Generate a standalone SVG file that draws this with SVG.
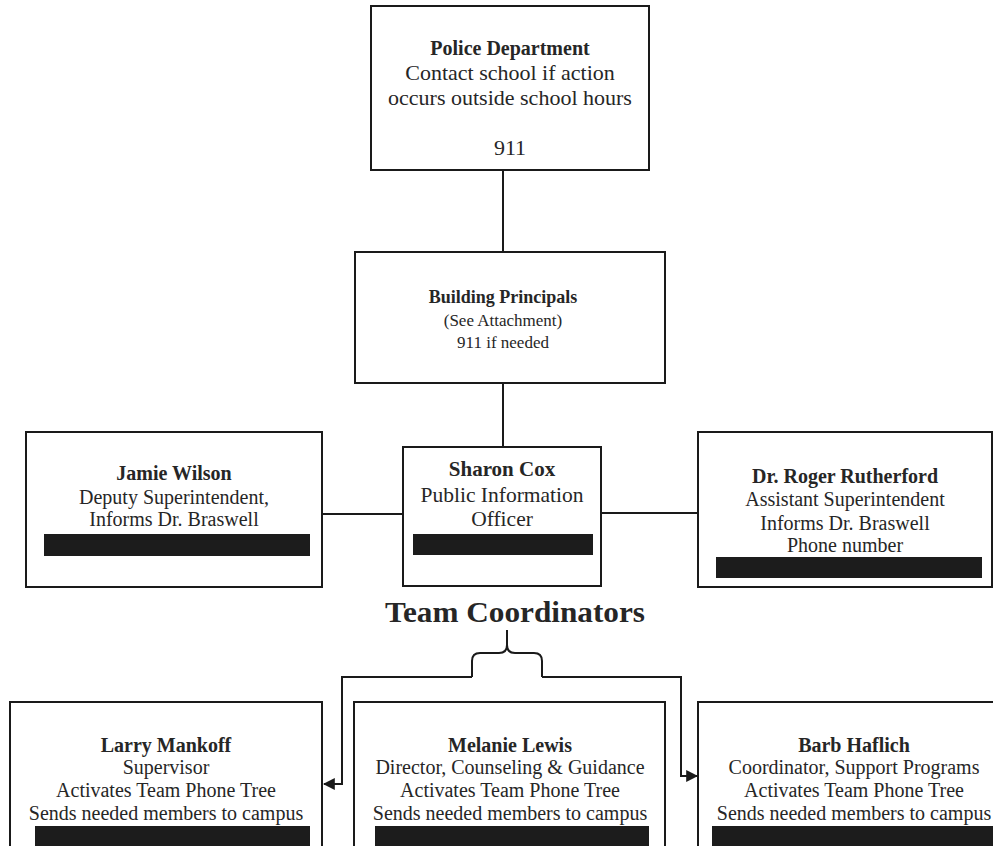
<svg xmlns="http://www.w3.org/2000/svg" width="993" height="846" viewBox="0 0 993 846">
<style>
.box{fill:#fff;stroke:#1a1a1a;stroke-width:2}
.bar{fill:#1c1c1c}
.t{font-family:"Liberation Serif","Times New Roman",serif;fill:#262626;text-anchor:middle}
.b{font-weight:bold}
.ln{fill:none;stroke:#1a1a1a;stroke-width:2}
</style>
<defs>
<marker id="ah" viewBox="0 0 10 10" refX="9" refY="5" markerWidth="6" markerHeight="6" orient="auto" markerUnits="strokeWidth">
<path d="M0,0 L10,5 L0,10 z" fill="#1a1a1a"/>
</marker>
</defs>
<rect width="993" height="846" fill="#fff"/>
<g id="connectors">
<line class="ln" x1="503" y1="170" x2="503" y2="252"/>
<line class="ln" x1="503" y1="383" x2="503" y2="447"/>
<line class="ln" x1="322" y1="514" x2="403" y2="514"/>
<line class="ln" x1="601" y1="513" x2="698" y2="513"/>
<path class="ln" d="M472,677 L472,661 Q472,653 480,653 L499,653 Q507,653 507,645 L507,630 M507,645 Q507,653 515,653 L534,653 Q542,653 542,661 L542,677"/>
<path class="ln" d="M472,677 L342,677 L342,784 L324,784" marker-end="url(#ah)"/>
<path class="ln" d="M542,677 L681,677 L681,776 L697,776" marker-end="url(#ah)"/>
</g>
<g id="police">
<rect class="box" x="371" y="6" width="278" height="164"/>
<text class="t b" x="510" y="55" font-size="20">Police Department</text>
<text class="t" x="510" y="80" font-size="22">Contact school if action</text>
<text class="t" x="510" y="105" font-size="22">occurs outside school hours</text>
<text class="t" x="510" y="155" font-size="22">911</text>
</g>
<g id="principals">
<rect class="box" x="355" y="252" width="310" height="131"/>
<text class="t b" x="503" y="303" font-size="18">Building Principals</text>
<text class="t" x="503" y="326" font-size="17">(See Attachment)</text>
<text class="t" x="503" y="348" font-size="17">911 if needed</text>
</g>
<g id="jamie">
<rect class="box" x="26" y="432" width="296" height="155"/>
<text class="t b" x="174" y="480" font-size="20">Jamie Wilson</text>
<text class="t" x="174" y="504" font-size="20">Deputy Superintendent,</text>
<text class="t" x="174" y="526" font-size="20">Informs Dr. Braswell</text>
<rect class="bar" x="44" y="534" width="266" height="22"/>
</g>
<g id="sharon">
<rect class="box" x="403" y="447" width="198" height="139"/>
<text class="t b" x="502" y="476" font-size="21">Sharon Cox</text>
<text class="t" x="502" y="502" font-size="21.5">Public Information</text>
<text class="t" x="502" y="526" font-size="21.5">Officer</text>
<rect class="bar" x="413" y="534" width="180" height="21"/>
</g>
<g id="roger">
<rect class="box" x="698" y="432" width="294" height="155"/>
<text class="t b" x="845" y="483" font-size="20">Dr. Roger Rutherford</text>
<text class="t" x="845" y="506" font-size="20">Assistant Superintendent</text>
<text class="t" x="845" y="530" font-size="20">Informs Dr. Braswell</text>
<text class="t" x="845" y="552" font-size="20">Phone number</text>
<rect class="bar" x="716" y="557" width="266" height="21"/>
</g>
<g id="team-coordinators">
<text class="t b" x="515" y="622" font-size="30" textLength="260" lengthAdjust="spacingAndGlyphs">Team Coordinators</text>
</g>
<g id="larry">
<rect class="box" x="10" y="702" width="312" height="160"/>
<text class="t b" x="166" y="752" font-size="20">Larry Mankoff</text>
<text class="t" x="166" y="774" font-size="20">Supervisor</text>
<text class="t" x="166" y="797" font-size="20">Activates Team Phone Tree</text>
<text class="t" x="166" y="820" font-size="20">Sends needed members to campus</text>
<rect class="bar" x="35" y="826" width="275" height="30"/>
</g>
<g id="melanie">
<rect class="box" x="354" y="702" width="311" height="160"/>
<text class="t b" x="510" y="752" font-size="20">Melanie Lewis</text>
<text class="t" x="510" y="774" font-size="20">Director, Counseling &amp; Guidance</text>
<text class="t" x="510" y="797" font-size="20">Activates Team Phone Tree</text>
<text class="t" x="510" y="820" font-size="20">Sends needed members to campus</text>
<rect class="bar" x="375" y="826" width="274" height="30"/>
</g>
<g id="barb">
<rect class="box" x="698" y="702" width="320" height="160"/>
<text class="t b" x="854" y="752" font-size="20">Barb Haflich</text>
<text class="t" x="854" y="774" font-size="20">Coordinator, Support Programs</text>
<text class="t" x="854" y="797" font-size="20">Activates Team Phone Tree</text>
<text class="t" x="854" y="820" font-size="20">Sends needed members to campus</text>
<rect class="bar" x="712" y="826" width="300" height="30"/>
</g>
</svg>
